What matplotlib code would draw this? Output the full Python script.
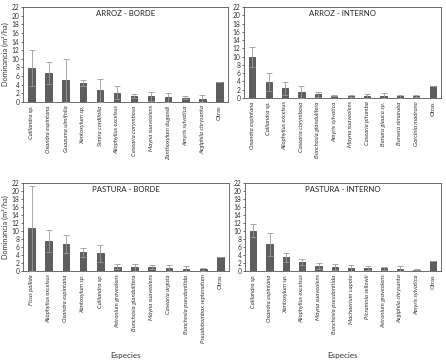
import matplotlib
matplotlib.use("Agg")
import matplotlib.pyplot as plt
import numpy as np

plt.rcParams['font.family'] = ['Lato', 'DejaVu Sans']

# ---- data ----
ab_species = ["Calliandra sp.", "Oxandra espintana", "Guazuma ulmifolia", "Xantoxylum sp.",
              "Simira cordifolia", "Allophyllus excelsus", "Casearia corymbosa", "Mayna suaveolens",
              "Zanthoxylum dugandi", "Amyris sylvatica", "Aegiphila chrysanta", "Otras"]
ab_values = [7.9, 6.7, 5.0, 4.4, 2.7, 2.1, 1.4, 1.3, 1.1, 1.0, 0.8, 4.7]
ab_errors = [4.1, 2.5, 5.0, 0.7, 2.6, 1.5, 0.5, 1.0, 1.1, 0.3, 0.8, 0.0]

ai_species = ["Oxandra espintana", "Calliandra sp.", "Allophyllus excelsus", "Casearia corymbosa",
              "Bunchosia glandulifera", "Amyris sylvatica", "Mayna suaveolens", "Casearia pitumba",
              "Banara glauca sp.", "Bursera simaruba", "Garcinia madruno", "Otras"]
ai_values = [10.0, 3.9, 2.3, 1.4, 0.9, 0.6, 0.5, 0.5, 0.6, 0.4, 0.5, 2.8]
ai_errors = [2.4, 2.1, 1.6, 1.4, 0.6, 0.2, 0.2, 0.4, 0.5, 0.3, 0.3, 0.0]

pb_species = ["Ficus pallida", "Allophyllus excelsus", "Oxandra espintana", "Xantoxylum sp.",
              "Calliandra sp.", "Astronium graveolens", "Bunchosia glandulifera", "Mayna suaveolens",
              "Casearia arguta", "Bunchosia pseudonitida", "Pseudobombax septenatum", "Otras"]
pb_values = [10.7, 7.5, 6.7, 4.7, 4.4, 1.1, 0.9, 0.9, 0.8, 0.6, 0.4, 3.4]
pb_errors = [10.6, 2.7, 2.2, 1.1, 2.2, 0.6, 0.9, 0.5, 0.8, 0.6, 0.4, 0.0]

pi_species = ["Calliandra sp.", "Oxandra espintana", "Xantoxylum sp.", "Allophyllus excelsus",
              "Mayna suaveolens", "Bunchosia pseudonitida", "Machaerium capote", "Picramnia sellowii",
              "Astronium graveolens", "Aegiphila chrysanta", "Amyris sylvatica", "Otras"]
pi_values = [10.1, 6.7, 3.4, 2.3, 1.3, 1.0, 0.8, 0.7, 0.7, 0.6, 0.3, 2.5]
pi_errors = [1.7, 2.9, 1.2, 0.7, 0.7, 0.7, 0.7, 0.5, 0.4, 0.6, 0.1, 0.0]

titles = ["ARROZ - BORDE", "ARROZ - INTERNO", "PASTURA - BORDE", "PASTURA - INTERNO"]
yticks = list(range(0, 23, 2))

W, H = 446, 364
fig = plt.figure(figsize=(W / 100, H / 100), dpi=100)

def rect(l, r, t, b):
    return [l / W, 1 - b / H, (r - l) / W, (b - t) / H]

rects = [rect(23, 228, 7, 102), rect(244, 441, 7, 98),
         rect(23, 229, 183, 271), rect(245, 441, 183, 271)]
panels = [(ab_species, ab_values, ab_errors), (ai_species, ai_values, ai_errors),
          (pb_species, pb_values, pb_errors), (pi_species, pi_values, pi_errors)]

for i, (r, (sp, vals, errs), title) in enumerate(zip(rects, panels, titles)):
    ax = fig.add_axes(r)
    x = np.arange(len(sp))
    ax.bar(x, vals, width=0.38, color='#5e5e5e', edgecolor='#3a3a3a', linewidth=0.5, zorder=2)
    ax.errorbar(x, vals, yerr=errs, fmt='none',
                ecolor='#9a9a9a', elinewidth=0.6, capsize=2.2, capthick=0.6, zorder=3)
    ax.set_xlim(-0.5, len(sp) - 0.5)
    ax.set_ylim(0, 22)
    ax.set_yticks(yticks)
    ax.set_yticklabels([str(t) for t in yticks], fontsize=4.8, color='#333333')
    ax.tick_params(axis='y', length=1.8, width=0.5, pad=0.8, colors='#333333')
    ax.set_xticks(x)
    ax.set_xticklabels(sp, rotation=90, fontsize=4.3, color='#333333')
    for lbl, name in zip(ax.get_xticklabels(), sp):
        if name != "Otras":
            lbl.set_style('italic')
    ax.tick_params(axis='x', length=0, pad=2.5)
    for s in ax.spines.values():
        s.set_linewidth(0.6)
        s.set_color('#555555')
    ax.text(0.5, 0.965, title, transform=ax.transAxes, ha='center', va='top',
            fontsize=5.6, color='#222222')
    if i % 2 == 0:
        ax.set_ylabel("Dominancia (m²/ha)", fontsize=5.3, color='#333333', labelpad=2)
    if i >= 2:
        ax.set_xlabel("Especies", fontsize=5.8, color='#333333')
        ax.xaxis.set_label_coords(0.5, -0.955)
        ax.xaxis.label.set_va('center')

fig.savefig("out.png", dpi=100)
